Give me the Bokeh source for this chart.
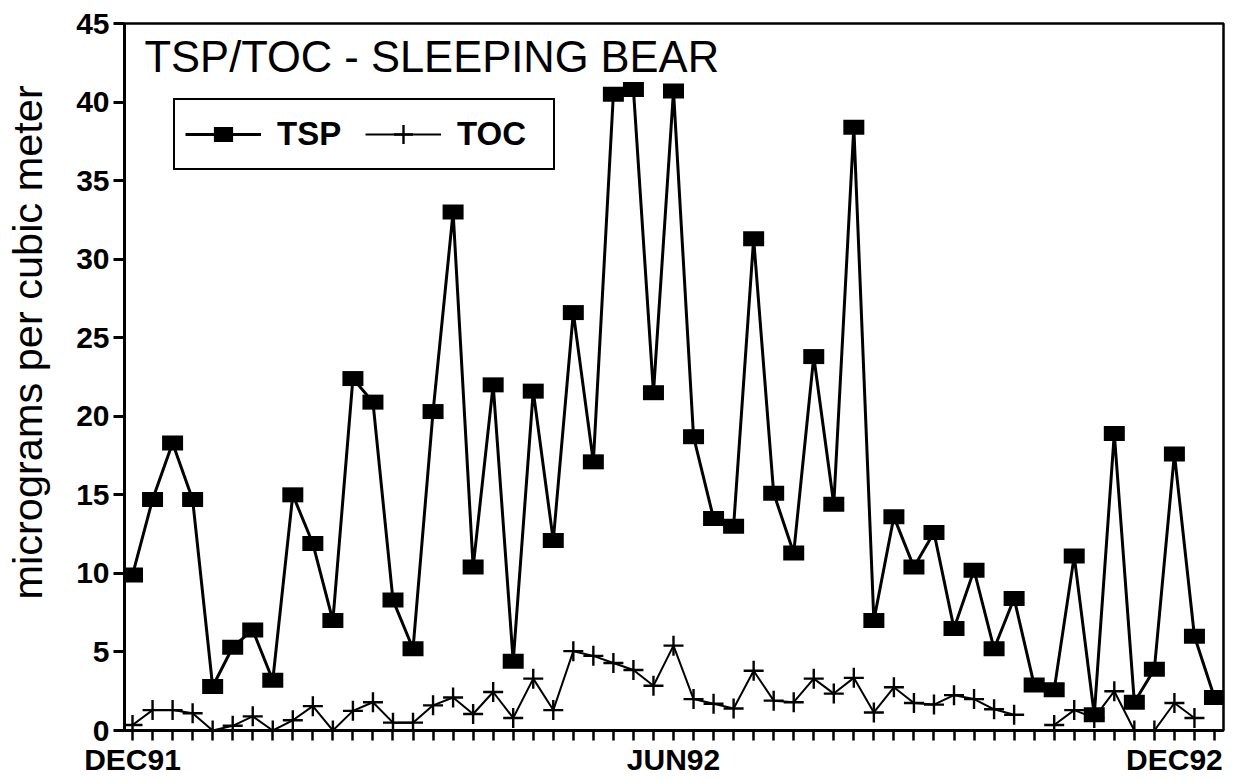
from bokeh.plotting import figure
from bokeh.models import Range1d, FixedTicker, Legend, LegendItem, Label
from bokeh.embed import file_html
from bokeh.resources import INLINE

NaN = float("nan")

# ---- data ----
sample_week = list(range(55))
tsp = [9.9, 14.7, 18.3, 14.7, 2.8, 5.3, 6.4, 3.2, 15.0, 11.9,
       7.0, 22.4, 20.9, 8.3, 5.2, 20.3, 33.0, 10.4, 22.0, 4.4,
       21.6, 12.1, 26.6, 17.1, 40.5, 40.8, 21.5, 40.7, 18.7, 13.5,
       13.0, 31.3, 15.1, 11.3, 23.8, 14.4, 38.4, 7.0, 13.6, 10.4,
       12.6, 6.5, 10.2, 5.2, 8.4, 2.9, 2.6, 11.1, 1.0, 18.9,
       1.8, 3.9, 17.6, 6.0, 2.1]
toc = [0.35, 1.3, 1.3, 1.1, 0.0, 0.3, 0.9, 0.0, 0.65, 1.55,
       0.0, 1.25, 1.8, 0.5, 0.5, 1.6, 2.1, 1.05, 2.45, 0.8,
       3.3, 1.3, 5.05, 4.75, 4.3, 3.85, 2.85, 5.4, 2.0, 1.7,
       1.4, 3.8, 1.9, 1.8, 3.3, 2.35, 3.35, 1.15, 2.75, 1.75,
       1.65, 2.25, 2.0, 1.35, 1.0, NaN, 0.35, 1.3, 0.8, 2.5,
       0.0, 0.0, 1.75, 0.8, NaN]
tick_weeks = [0, 27, 52]
tick_labels = ["DEC91", "JUN92", "DEC92"]
y_ticks = [0, 5, 10, 15, 20, 25, 30, 35, 40, 45]
title_text = "TSP/TOC - SLEEPING BEAR"
y_label = "micrograms per cubic meter"
series_names = ["TSP", "TOC"]

FONT = "Liberation Sans"

p = figure(frame_width=1099, frame_height=707,
           min_border_left=124, min_border_right=14,
           min_border_top=23, min_border_bottom=46,
           x_range=Range1d(-0.4, 54.45), y_range=Range1d(0, 45),
           output_backend="svg", toolbar_location=None)

p.xgrid.visible = False
p.ygrid.visible = False
p.outline_line_color = "black"
p.outline_line_width = 2.5
p.outline_line_alpha = 1.0
p.background_fill_color = "white"
p.border_fill_color = "white"

# y axis
ya = p.yaxis[0]
ya.ticker = FixedTicker(ticks=y_ticks)
ya.major_tick_out = 11
ya.major_tick_in = 0
ya.minor_tick_out = 0
ya.minor_tick_in = 0
ya.axis_line_width = 3
ya.axis_line_color = "black"
ya.major_tick_line_width = 3
ya.major_tick_line_color = "black"
ya.major_label_text_font = FONT
ya.major_label_text_font_style = "bold"
ya.major_label_text_font_size = "30px"
ya.major_label_text_color = "black"
ya.major_label_standoff = 4
# leading no-break spaces nudge the centred label a little upwards, as in the original
ya.axis_label = "\u00a0" * 6 + y_label
ya.axis_label_text_font = FONT
ya.axis_label_text_font_style = "normal"
ya.axis_label_text_font_size = "41.5px"
ya.axis_label_text_color = "black"
ya.axis_label_standoff = 22

# x axis
xa = p.xaxis[0]
overrides = {w: "" for w in sample_week}
for w, lab in zip(tick_weeks, tick_labels):
    overrides[w] = lab
xa.ticker = FixedTicker(ticks=sample_week)
xa.major_label_overrides = overrides
xa.major_tick_out = 10
xa.major_tick_in = 0
xa.minor_tick_out = 0
xa.minor_tick_in = 0
xa.axis_line_width = 3
xa.axis_line_color = "black"
xa.major_tick_line_width = 2.5
xa.major_tick_line_color = "black"
xa.major_label_text_font = FONT
xa.major_label_text_font_style = "bold"
xa.major_label_text_font_size = "30px"
xa.major_label_text_color = "black"
xa.major_label_standoff = 2

# series
r_tsp_line = p.line(sample_week, tsp, line_color="black", line_width=3)
r_tsp_pts = p.scatter(sample_week, tsp, marker="dash", size=21, line_width=15,
                      line_color="black", line_cap="butt")
r_toc_line = p.line(sample_week, toc, line_color="black", line_width=2)
r_toc_pts = p.scatter(sample_week, toc, marker="cross", size=20, line_width=2.4,
                      line_color="black")

legend = Legend(items=[LegendItem(label=series_names[0], renderers=[r_tsp_line, r_tsp_pts]),
                       LegendItem(label=series_names[1], renderers=[r_toc_line, r_toc_pts])],
                orientation="horizontal", location=(49, 560),
                glyph_width=76, glyph_height=48, padding=10, margin=0,
                label_standoff=16, spacing=2, label_width=86,
                label_text_font=FONT, label_text_font_style="bold",
                label_text_font_size="33px", label_text_color="black",
                border_line_color="black", border_line_width=2.5,
                border_line_alpha=1.0,
                background_fill_color="white", background_fill_alpha=1.0)
p.add_layout(legend)

title = Label(x=0.6, y=42.85, text=title_text, text_font=FONT,
              text_font_size="43.5px", text_baseline="alphabetic",
              text_color="black")
p.add_layout(title)

open("out.html", "w").write(file_html(p, INLINE))
